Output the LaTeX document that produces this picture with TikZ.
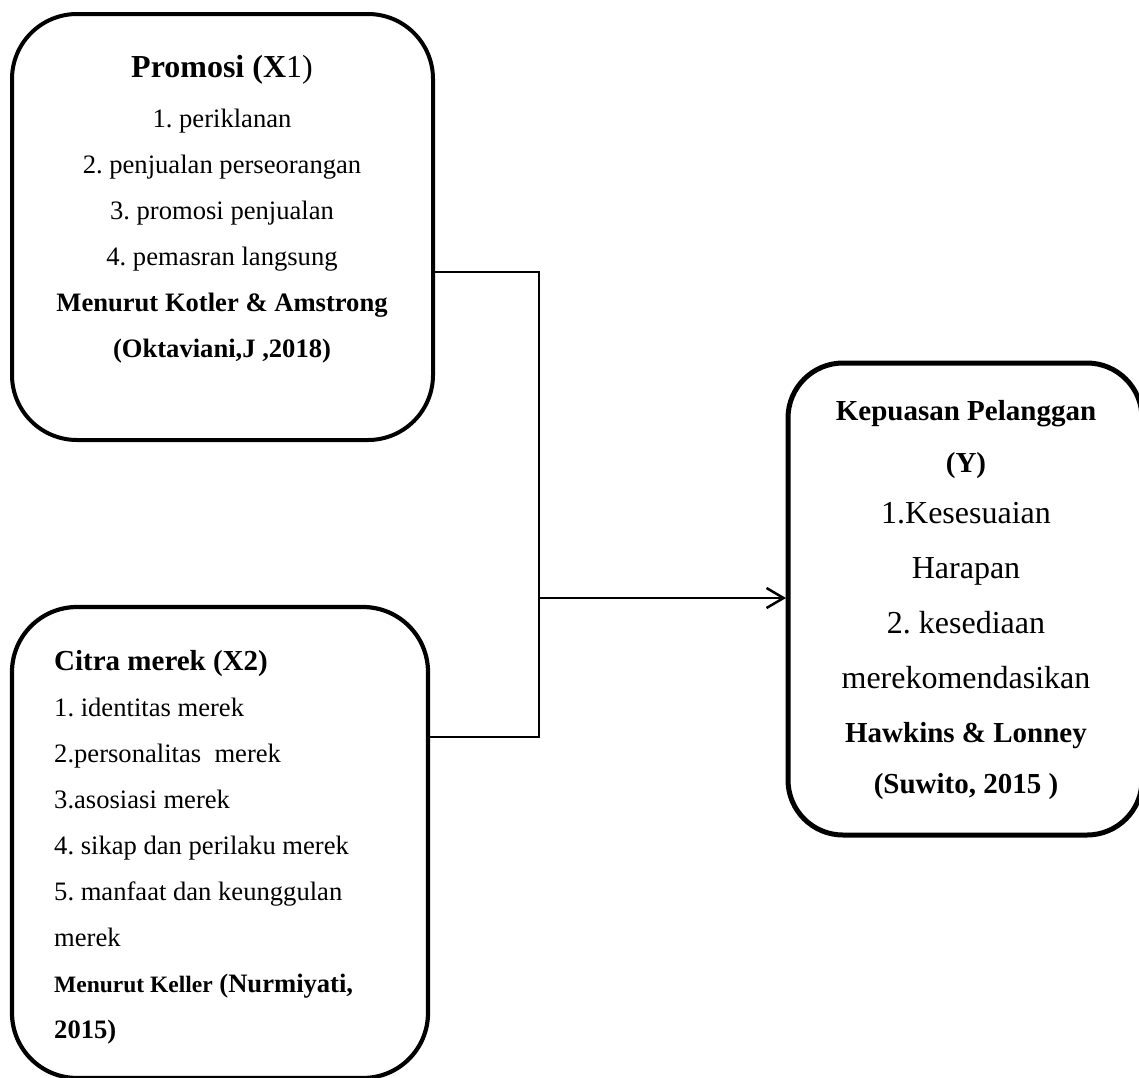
\documentclass[tikz,border=0pt]{standalone}
\usepackage{fontspec}
\setmainfont{Liberation Serif}
\frenchspacing
\usetikzlibrary{arrows.meta}
\tikzset{
  varbox/.style={draw=black, rounded corners=#1, inner sep=0pt, outer sep=0pt},
  conn/.style={draw=black, line width=2pt},
  ctext/.style={anchor=base, inner sep=0pt, font=\fontsize{26.6}{30}\selectfont\frenchspacing},
  ltext/.style={anchor=base west, inner sep=0pt, font=\fontsize{26.6}{30}\selectfont\frenchspacing},
  rtext/.style={anchor=base, inner sep=0pt, font=\fontsize{32}{36}\selectfont\frenchspacing},
}
\begin{document}
\begin{tikzpicture}[x=1pt, y=-1pt]
\useasboundingbox (0,0) rectangle (1139,1077);
\clip (0,0) rectangle (1139,1077);
\fill[white] (0,0) rectangle (1139,1077);

% boxes
\node[varbox=65pt, line width=4pt, minimum width=421pt, minimum height=426pt] (b1) at (222.5,227) {};
\node[varbox=65pt, line width=4.2pt, minimum width=416pt, minimum height=471pt] (b2) at (220,842.5) {};
\node[varbox=55pt, line width=5pt, minimum width=354pt, minimum height=472pt] (b3) at (965,599) {};

% box 1 text
\node[ctext, font=\fontsize{32}{36}\selectfont] (p0) at (222,77) {\textbf{Promosi (X}1)};
\node[ctext] (p1) at (222,127) {1. periklanan};
\node[ctext] (p2) at (222,173) {2. penjualan perseorangan};
\node[ctext] (p3) at (222,219) {3. promosi penjualan};
\node[ctext] (p4) at (222,265) {4. pemasran langsung};
\node[ctext] (p5) at (222,311) {\textbf{Menurut Kotler \& Amstrong}};
\node[ctext] (p6) at (222,357) {\textbf{(Oktaviani,J ,2018)}};

% box 2 text
\node[ltext, font=\fontsize{29}{33}\selectfont] (c0) at (54,670) {\textbf{Citra merek (X2)}};
\node[ltext] (c1) at (54,716) {1. identitas merek};
\node[ltext] (c2) at (54,762) {2.personalitas\ \ merek};
\node[ltext] (c3) at (54,808) {3.asosiasi merek};
\node[ltext] (c4) at (54,854) {4. sikap dan perilaku merek};
\node[ltext] (c5) at (54,900) {5. manfaat dan keunggulan};
\node[ltext] (c6) at (54,946) {merek};
\node[ltext] (c7) at (54,992) {\textbf{{\fontsize{23.5}{26}\selectfont Menurut Keller} (Nurmiyati,}};
\node[ltext] (c8) at (54,1038) {\textbf{2015)}};

% box 3 text
\node[rtext, font=\fontsize{29}{33}\selectfont] (k0) at (966,420) {\textbf{Kepuasan Pelanggan}};
\node[rtext, font=\fontsize{29}{33}\selectfont] (k1) at (966,472) {\textbf{(Y)}};
\node[rtext] (k2) at (966,523) {1.Kesesuaian};
\node[rtext] (k3) at (966,578) {Harapan};
\node[rtext] (k4) at (966,633) {2. kesediaan};
\node[rtext] (k5) at (966,688) {merekomendasikan};
\node[rtext, font=\fontsize{29}{33}\selectfont] (k6) at (966,742) {\textbf{Hawkins \& Lonney}};
\node[rtext, font=\fontsize{29}{33}\selectfont] (k7) at (966,793) {\textbf{(Suwito, 2015 )}};

% connectors
\coordinate (jt) at (539,272);
\coordinate (jb) at (539,737);
\coordinate (jm) at (539,598);
\draw[conn] (b1.east |- jt) -- (jt) -- (jb) -- (b2.east |- jb);
\draw[conn, -{Straight Barb[length=17pt, width=20pt, line width=2.5pt]}] (jm) -- ([xshift=-2pt]b3.west |- jm);
\end{tikzpicture}
\end{document}
